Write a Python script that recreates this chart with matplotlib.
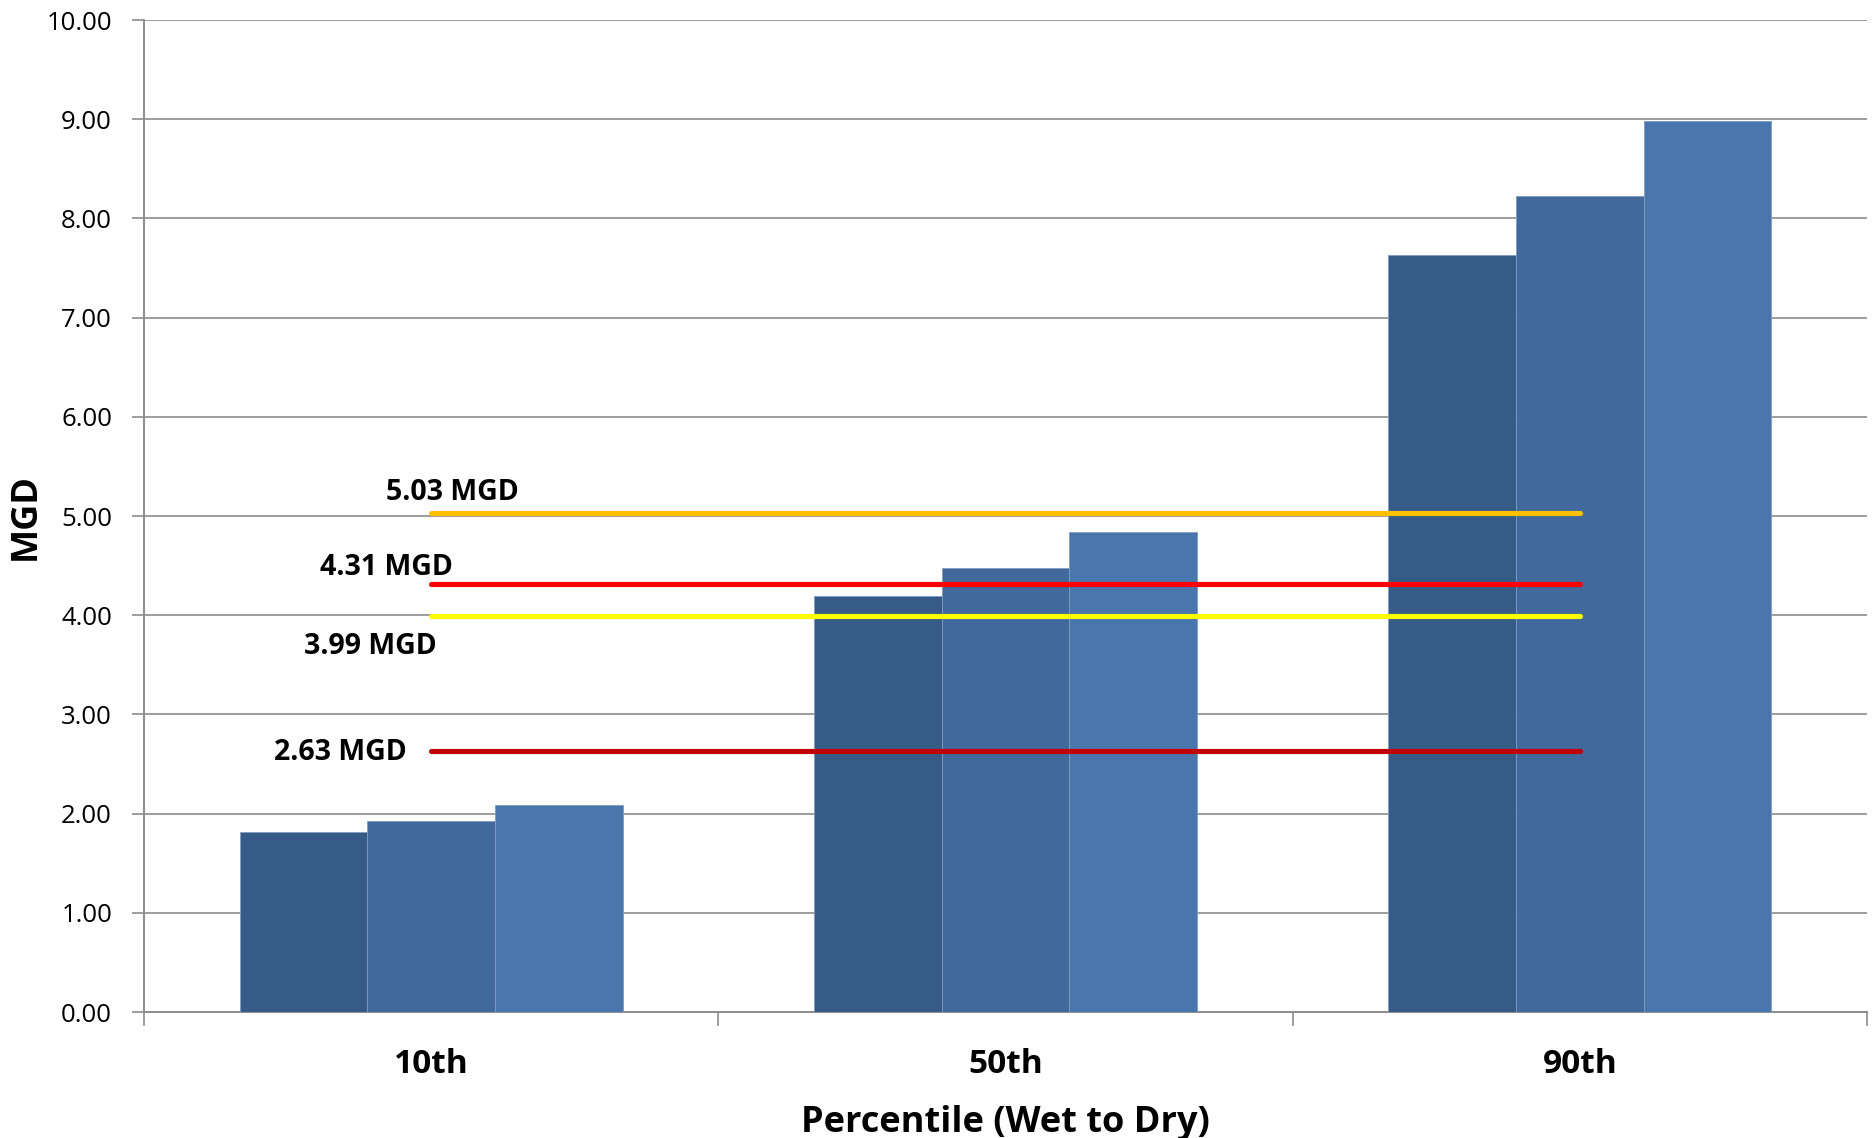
import matplotlib
matplotlib.use("Agg")
import matplotlib.pyplot as plt
import numpy as np

categories = ["10th", "50th", "90th"]
series_a = [1.81, 4.19, 7.63]
series_b = [1.93, 4.48, 8.23]
series_c = [2.09, 4.84, 8.98]
bar_colors = ["#365B86", "#41699B", "#4876AD"]

thresholds = [5.03, 4.31, 3.99, 2.63]
threshold_labels = ["5.03 MGD", "4.31 MGD", "3.99 MGD", "2.63 MGD"]
threshold_colors = ["#FFC000", "#FF0000", "#FFFF00", "#C00000"]
# label anchor (right edge, in category units) and y position (data units)
label_x = [0.152, 0.037, 0.010, -0.042]
label_y = [5.24, 4.48, 3.68, 2.62]

yticks = [0, 1, 2, 3, 4, 5, 6, 7, 8, 9, 10]

plt.rcParams['font.family'] = ['Open Sans', 'DejaVu Sans']

fig = plt.figure(figsize=(18.73, 11.38), dpi=100)
ax = fig.add_axes([0.0769, 0.1107, 0.9199, 0.8717])

x = np.arange(len(categories))
w = 1.0 / 4.5
series = [series_a, series_b, series_c]
for i, s in enumerate(series):
    ax.bar(x + (i - 1) * w, s, width=w, color=bar_colors[i],
           edgecolor="#7f9cc2", linewidth=0.6, zorder=3)

for t, lab, c, lx, ly in zip(thresholds, threshold_labels, threshold_colors, label_x, label_y):
    ax.plot([0, 2], [t, t], color=c, linewidth=3.7, solid_capstyle="round", zorder=4)
    ax.text(lx, ly, lab, ha="right", va="center", fontsize=20.5, fontweight="bold",
            color="black", zorder=5)

ax.set_xlim(-0.5, 2.5)
ax.set_ylim(0, 10)
ax.set_yticks(yticks)
ax.set_yticklabels([f"{v:.2f}" for v in yticks], fontsize=18.5)
ax.yaxis.grid(True, color="#8c8c8c", linewidth=1.2, zorder=0)
ax.set_axisbelow(True)

ax.set_xticks([-0.5, 0.5, 1.5, 2.5])
ax.set_xticklabels([])
ax.set_xticks(x, minor=True)
ax.set_xticklabels(categories, minor=True, fontsize=24, fontweight="bold")
ax.tick_params(axis="x", which="minor", length=0, pad=26)
ax.tick_params(axis="x", which="major", length=10, width=1.2, color="#8c8c8c", direction="out")
ax.tick_params(axis="y", length=9, width=1.2, color="#8c8c8c", direction="out", pad=14)

for sp in ["top", "right"]:
    ax.spines[sp].set_visible(False)
for sp in ["left", "bottom"]:
    ax.spines[sp].set_color("#8c8c8c")
    ax.spines[sp].set_linewidth(1.4)

ax.set_xlabel("Percentile (Wet to Dry)", fontsize=26, fontweight="bold")
ax.xaxis.set_label_coords(0.5, -0.112)
ax.xaxis.label.set_va("center")
ax.set_ylabel("MGD", fontsize=26, fontweight="bold")
ax.yaxis.set_label_coords(-0.0685, 0.5)
ax.yaxis.label.set_va("center")

fig.savefig("out.png", dpi=100)
